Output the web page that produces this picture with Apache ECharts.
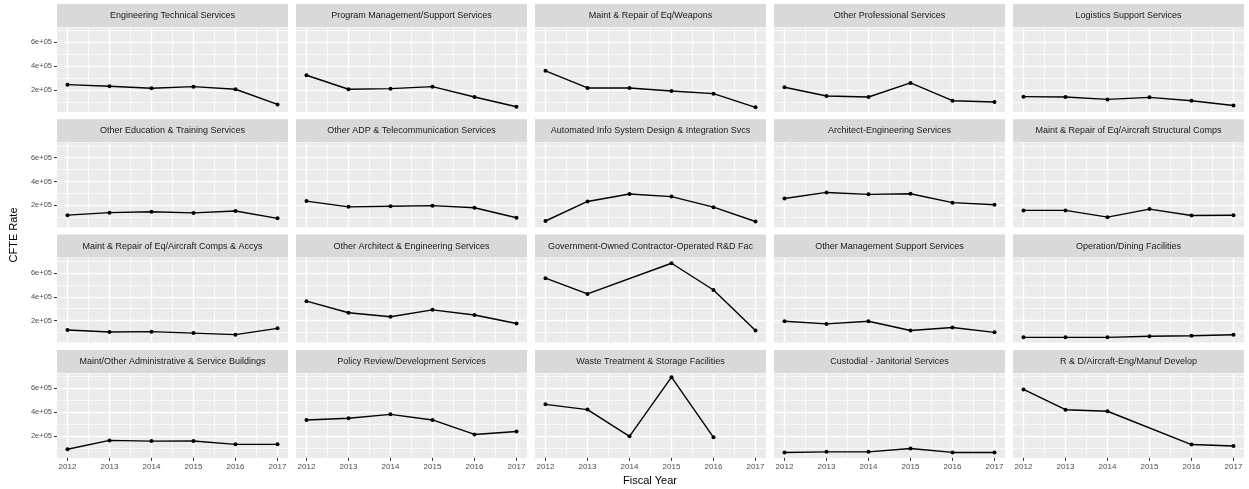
<!DOCTYPE html>
<html>
<head>
<meta charset="utf-8">
<script src="https://cdn.jsdelivr.net/npm/echarts@6/dist/echarts.min.js"></script>
<style>
  html, body { margin: 0; background: #fff; }
  #chart { width: 1249px; height: 489px; }
</style>
</head>
<body>
<div id="chart"></div>
<script>
// data
const years = [2012, 2013, 2014, 2015, 2016, 2017];
const minorYears = [2012.5, 2013.5, 2014.5, 2015.5, 2016.5];
const yTicks = [200000, 400000, 600000];
const yTickLabels = ['2e+05', '4e+05', '6e+05'];
const yMinor = [100000, 300000, 500000, 700000];

const panels = [
  'Engineering Technical Services',
  'Program Management/Support Services',
  'Maint & Repair of Eq/Weapons',
  'Other Professional Services',
  'Logistics Support Services',
  'Other Education & Training Services',
  'Other ADP & Telecommunication Services',
  'Automated Info System Design & Integration Svcs',
  'Architect-Engineering Services',
  'Maint & Repair of Eq/Aircraft Structural Comps',
  'Maint & Repair of Eq/Aircraft Comps & Accys',
  'Other Architect & Engineering Services',
  'Government-Owned Contractor-Operated R&D Fac',
  'Other Management Support Services',
  'Operation/Dining Facilities',
  'Maint/Other Administrative & Service Buildings',
  'Policy Review/Development Services',
  'Waste Treatment & Storage Facilities',
  'Custodial - Janitorial Services',
  'R & D/Aircraft-Eng/Manuf Develop'
];

// CFTE rate per panel, one value per fiscal year (null = no record)
const rates = [
  [245000, 231000, 214000, 228000, 206000, 79000],
  [324000, 206000, 211000, 228000, 141000, 59000],
  [361000, 217000, 217000, 192000, 169000, 54000],
  [223000, 149000, 141000, 259000, 110000, 99000],
  [144000, 141000, 121000, 138000, 110000, 70000],
  [117000, 138000, 146000, 136000, 152000, 90000],
  [235000, 187000, 192000, 197000, 179000, 95000],
  [68000, 232000, 295000, 273000, 184000, 64000],
  [257000, 308000, 292000, 297000, 222000, 205000],
  [157000, 157000, 100000, 168000, 114000, 116000],
  [121000, 104000, 107000, 95000, 82000, 135000],
  [363000, 266000, 232000, 290000, 247000, 175000],
  [556000, 424000, null, 682000, 457000, 116000],
  [194000, 172000, 194000, 117000, 142000, 101000],
  [59000, 59000, 59000, 68000, 73000, 81000],
  [88000, 162000, 156000, 157000, 129000, 129000],
  [334000, 348000, 381000, 334000, 212000, 237000],
  [465000, 421000, 196000, 693000, 188000, null],
  [61000, 66000, 66000, 94000, 61000, 61000],
  [590000, 420000, 407000, null, 127000, 115000]
];

const font = 'Liberation Sans, Arial, Helvetica, sans-serif';
const nCols = 5;
const colLeft = 57, colStep = 239, panelW = 231;
const rowTop = 4, rowStep = 115.3, stripH = 23, plotH = 84.5;
const yMin = 15000, yMax = 725000;

const chart = echarts.init(document.getElementById('chart'), null, { renderer: 'canvas' });

const grids = [], xAxes = [], yAxes = [], series = [], graphics = [];
const nRows = Math.ceil(panels.length / nCols);

panels.forEach((name, i) => {
  const r = Math.floor(i / nCols), c = i % nCols;
  const left = colLeft + c * colStep;
  const top = rowTop + r * rowStep;
  const bottomRow = r === nRows - 1;
  const firstCol = c === 0;

  grids.push({
    left: left, top: top + stripH + 0.5, width: panelW, height: plotH,
    show: true, backgroundColor: '#ebebeb', borderWidth: 0
  });

  // major x
  xAxes.push({
    type: 'value', gridIndex: i, min: 2011.75, max: 2017.25,
    axisLine: { show: false },
    axisTick: { show: bottomRow, length: 3, customValues: years, lineStyle: { color: '#333', width: 1 } },
    axisLabel: {
      show: bottomRow, customValues: years, margin: 5, fontSize: 8,
      color: '#4d4d4d', fontFamily: font, formatter: v => String(v)
    },
    splitLine: { show: true, lineStyle: { color: '#fff', width: 1.4 } }
  });
  // minor x
  xAxes.push({
    type: 'value', gridIndex: i, position: 'top', min: 2011.75, max: 2017.25,
    axisLine: { show: false },
    axisTick: { show: false, customValues: minorYears },
    axisLabel: { show: false },
    splitLine: { show: true, lineStyle: { color: '#fff', width: 0.7 } }
  });
  // major y
  yAxes.push({
    type: 'value', gridIndex: i, min: yMin, max: yMax,
    axisLine: { show: false },
    axisTick: { show: firstCol, length: 3, customValues: yTicks, lineStyle: { color: '#333', width: 1 } },
    axisLabel: {
      show: firstCol, customValues: yTicks, margin: 5, fontSize: 7.5,
      color: '#4d4d4d', fontFamily: font,
      formatter: v => yTickLabels[yTicks.indexOf(v)]
    },
    splitLine: { show: true, lineStyle: { color: '#fff', width: 1.4 } }
  });
  // minor y
  yAxes.push({
    type: 'value', gridIndex: i, position: 'right', min: yMin, max: yMax,
    axisLine: { show: false },
    axisTick: { show: false, customValues: yMinor },
    axisLabel: { show: false },
    splitLine: { show: true, lineStyle: { color: '#fff', width: 0.7 } }
  });

  const pts = [];
  years.forEach((yr, k) => {
    if (rates[i][k] !== null) pts.push([yr, rates[i][k]]);
  });
  series.push({
    type: 'line', xAxisIndex: 2 * i, yAxisIndex: 2 * i, data: pts,
    symbol: 'circle', symbolSize: 4, showSymbol: true,
    lineStyle: { color: '#000', width: 1.4 },
    itemStyle: { color: '#000' },
    silent: true, z: 5
  });

  // facet strip
  graphics.push({
    type: 'rect', shape: { x: left, y: top, width: panelW, height: stripH },
    style: { fill: '#d9d9d9' }, silent: true
  });
  graphics.push({
    type: 'text', x: left + panelW / 2, y: top + stripH / 2,
    style: {
      text: name, fill: '#1a1a1a', font: '9px ' + font,
      align: 'center', verticalAlign: 'middle'
    }, silent: true
  });
});

graphics.push({
  type: 'text', x: 650, y: 481,
  style: { text: 'Fiscal Year', fill: '#000', font: '11px ' + font, align: 'center', verticalAlign: 'middle' }
});
graphics.push({
  type: 'text', x: 14, y: 235, rotation: Math.PI / 2,
  style: { text: 'CFTE Rate', fill: '#000', font: '11px ' + font, align: 'center', verticalAlign: 'middle' }
});

chart.setOption({
  backgroundColor: '#fff',
  animation: false,
  grid: grids,
  xAxis: xAxes,
  yAxis: yAxes,
  series: series,
  graphic: graphics
});
</script>
</body>
</html>
